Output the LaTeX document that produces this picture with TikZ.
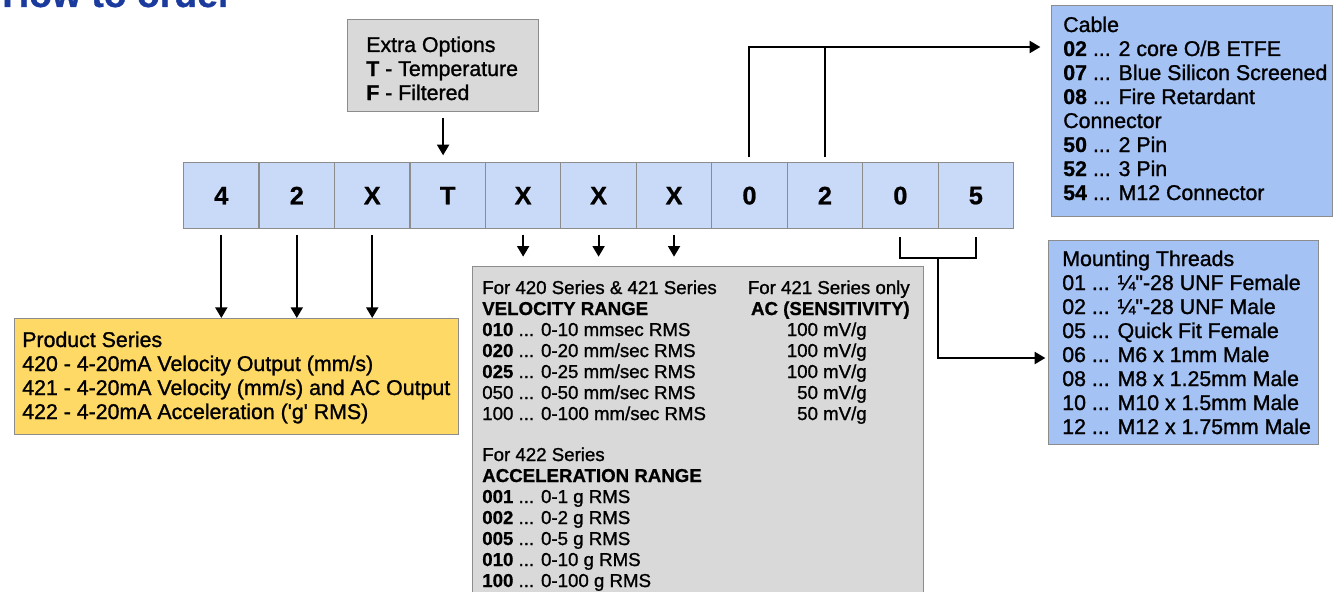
\documentclass[tikz,border=0pt]{standalone}
\usepackage{fontspec}
\setmainfont{Liberation Sans}[UprightFeatures={FakeBold=1.2},BoldFeatures={FakeBold=0.8}]
\usetikzlibrary{arrows.meta,calc}
\definecolor{cellblue}{HTML}{C9DAF8}
\definecolor{boxblue}{HTML}{A4C2F4}
\definecolor{prodyellow}{HTML}{FFD966}
\definecolor{boxgray}{HTML}{D9D9D9}
\definecolor{edgegray}{HTML}{8C8C8C}
\definecolor{titleblue}{HTML}{1B3A9E}
\newcommand\thr{...}
\newcommand\txtlines[5]{%
  \foreach \t [count=\i] in {#5} {\node[#1] (#2-\i) at (#3, {#4+(\i-1)*\dyline}) {\t};}}
\begin{document}
\begin{tikzpicture}[x=0.75pt,y=-0.75pt,
  panel/.style={draw=edgegray, line width=0.9pt, anchor=north west, inner sep=0},
  cell/.style={draw=edgegray, line width=0.9pt, fill=cellblue, minimum width=56.6pt, minimum height=49.5pt, inner sep=0, anchor=north west, font=\fontsize{19}{22}\selectfont\bfseries},
  big/.style={font=\fontsize{16}{18}\selectfont, inner sep=0, anchor=base west},
  small/.style={font=\fontsize{14}{16}\selectfont, inner sep=0, anchor=base west},
  smallr/.style={font=\fontsize{14}{16}\selectfont, inner sep=0, anchor=base east},
  link/.style={line width=1.5pt},
  arr/.style={link, -{Triangle[length=8pt,width=9pt]}}]
\useasboundingbox (0,0) rectangle (1338,592);

% title (cut off at the top)
\node[anchor=base west, font=\fontsize{28}{30}\selectfont\bfseries, text=titleblue, inner sep=0] (title) at (2,7) {How to order};

% code cells
\foreach \c [count=\i] in {4,2,X,T,X,X,X,0,2,0,5}
  \node[cell] (c\i) at ({183+(\i-1)*75.45},162) {\c};

% panels
\node[panel, fill=boxgray, minimum width=143.25pt, minimum height=69pt] (extra) at (347,19) {};
\node[panel, fill=boxblue, minimum width=210.75pt, minimum height=158.25pt] (cable) at (1051,5) {};
\node[panel, fill=boxblue, minimum width=202.5pt, minimum height=153pt] (mount) at (1048,240) {};
\node[panel, fill=prodyellow, minimum width=333pt, minimum height=87pt] (prod) at (14,318) {};
\node[panel, fill=boxgray, minimum width=338.25pt, minimum height=250.5pt] (range) at (472,266) {};

% texts
\def\dyline{24}
\txtlines{big}{ex}{366}{52}{Extra Options,\textbf{T} - Temperature,\textbf{F} - Filtered}
\txtlines{big}{cb}{1063}{32}{Cable,\textbf{02} \thr{} 2 core O/B ETFE,\textbf{07} \thr{} Blue Silicon Screened,\textbf{08} \thr{} Fire Retardant,Connector,\textbf{50} \thr{} 2 Pin,\textbf{52} \thr{} 3 Pin,\textbf{54} \thr{} M12 Connector}
\txtlines{big}{mt}{1062}{266}{Mounting Threads,01 \thr{} ¼\textquotedbl-28 UNF Female,02 \thr{} ¼\textquotedbl-28 UNF Male,05 \thr{} Quick Fit Female,06 \thr{} M6 x 1mm Male,08 \thr{} M8 x 1.25mm Male,10 \thr{} M10 x 1.5mm Male,12 \thr{} M12 x 1.75mm Male}
\txtlines{big}{ps}{22}{347}{Product Series,420 - 4-20mA Velocity Output (mm/s),421 - 4-20mA Velocity (mm/s) and AC Output,422 - 4-20mA Acceleration (\textquotesingle g\textquotesingle{} RMS)}
\def\dyline{21}
\txtlines{small}{vr}{482}{294}{For 420 Series \& 421 Series,\textbf{VELOCITY RANGE},\textbf{010} \thr{} 0-10 mmsec RMS,\textbf{020} \thr{} 0-20 mm/sec RMS,\textbf{025} \thr{} 0-25 mm/sec RMS,050 \thr{} 0-50 mm/sec RMS,100 \thr{} 0-100 mm/sec RMS}
\txtlines{smallr}{ach}{910}{294}{For 421 Series only,\textbf{AC (SENSITIVITY)}}
\txtlines{smallr}{acv}{867}{336}{100 mV/g,100 mV/g,100 mV/g,50 mV/g,50 mV/g}
\txtlines{small}{ar}{482}{461}{For 422 Series,\textbf{ACCELERATION RANGE},\textbf{001} \thr{} 0-1 g RMS,\textbf{002} \thr{} 0-2 g RMS,\textbf{005} \thr{} 0-5 g RMS,\textbf{010} \thr{} 0-10 g RMS,\textbf{100} \thr{} 0-100 g RMS}

% connectors
\coordinate (cabrow) at (0,47);
\coordinate (brk) at (0,258);
\coordinate (mrow) at (0,358);
\draw[arr, shorten <=4.5pt, shorten >=5pt] (extra.south) -- (extra.south |- c4.north);
\foreach \i in {1,2,3}
  \draw[arr, shorten <=4pt] (c\i.south) -- (c\i.south |- prod.north);
\foreach \i in {5,6,7}
  \draw[arr, shorten <=4pt, shorten >=7pt] (c\i.south) -- (c\i.south |- range.north);
\draw[arr, shorten <=4pt, shorten >=8pt] (c8.north) |- (cable.west |- cabrow);
\draw[link, shorten <=4pt] (c9.north) -- (c9.north |- cabrow);
\draw[link, shorten <=6pt, shorten >=6pt] (c10.south) -- (c10.south |- brk) -| (c11.south);
\coordinate (bmid) at ($(c10.south |- brk)!0.5!(c11.south |- brk)$);
\draw[arr, shorten >=2pt] (bmid) |- (mount.west |- mrow);
\end{tikzpicture}
\end{document}
